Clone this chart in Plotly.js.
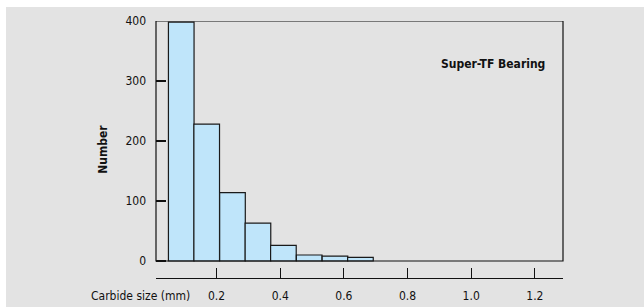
<!DOCTYPE html>
<html>
<head>
<meta charset="utf-8">
<script src="https://cdn.plot.ly/plotly-3.0.1.min.js"></script>
<style>
  html, body { margin: 0; padding: 0; background: #ffffff; }
  #bg { position: absolute; left: 6px; top: 7px; width: 638px; height: 300px; background: #e3e3e3; }
  #chart { position: absolute; left: 0; top: 0; width: 644px; height: 307px; }
</style>
</head>
<body>
<div id="bg"></div>
<div id="chart"></div>
<script>
// Data
const binCenters = [0.089, 0.169, 0.250, 0.330, 0.410, 0.491, 0.572, 0.652];
const counts = [398, 228, 114, 63, 26, 10, 8, 6];
const xTickVals = [0.2, 0.4, 0.6, 0.8, 1.0, 1.2];
const xTickText = ["0.2", "0.4", "0.6", "0.8", "1.0", "1.2"];
const yTickVals = [0, 100, 200, 300, 400];
const chartLabel = "Super-TF Bearing";
const xTitle = "Carbide size (mm)";
const yTitle = "Number";

const FONT = "'Liberation Sans Narrow', 'DejaVu Sans Condensed', 'Roboto Condensed', sans-serif";

const trace = {
  type: "bar",
  x: binCenters,
  y: counts,
  width: 0.0805,
  marker: { color: "#bfe5fa", line: { color: "#1a1a1a", width: 1.2 } },
  hoverinfo: "skip"
};

const layout = {
  width: 644,
  height: 307,
  margin: { l: 156, r: 81, t: 21, b: 29, pad: 0 },
  paper_bgcolor: "rgba(0,0,0,0)",
  plot_bgcolor: "rgba(0,0,0,0)",
  showlegend: false,
  font: { family: FONT, size: 12, color: "#111111" },
  xaxis: {
    range: [0.0097, 1.2884],
    tickvals: xTickVals,
    ticktext: xTickText,
    ticks: "inside",
    ticklen: 10,
    tickwidth: 1.2,
    tickcolor: "#111111",
    showline: true,
    linecolor: "#111111",
    linewidth: 1.2,
    showgrid: false,
    zeroline: false,
    fixedrange: true,
    ticklabelstandoff: 6,
    tickfont: { family: FONT, size: 12, color: "#111111" }
  },
  yaxis: {
    range: [-28.3, 400],
    tickvals: yTickVals,
    ticks: "inside",
    ticklen: 10,
    tickwidth: 1.2,
    tickcolor: "#111111",
    showline: false,
    showgrid: false,
    zeroline: false,
    fixedrange: true,
    ticklabelstandoff: 9,
    tickfont: { family: FONT, size: 12, color: "#111111" },
    title: { text: "<b>" + yTitle + "</b>", standoff: 15, font: { family: FONT, size: 12, color: "#111111" } }
  },
  shapes: [
    { type: "rect", xref: "paper", x0: 0, x1: 1, yref: "y", y0: 0, y1: 400,
      line: { color: "#111111", width: 1.2 }, fillcolor: "rgba(0,0,0,0)", layer: "above" }
  ],
  annotations: [
    { text: "<b>" + chartLabel + "</b>", xref: "paper", yref: "paper", x: 0.961, y: 0.833,
      xanchor: "right", yanchor: "middle", showarrow: false,
      font: { family: FONT, size: 12, color: "#111111" } },
    { text: xTitle, xref: "paper", yref: "paper", x: 0.089, y: -0.070,
      xanchor: "right", yanchor: "middle", showarrow: false,
      font: { family: FONT, size: 12, color: "#111111" } }
  ]
};

Plotly.newPlot("chart", [trace], layout, { staticPlot: true, displayModeBar: false });
</script>
</body>
</html>
